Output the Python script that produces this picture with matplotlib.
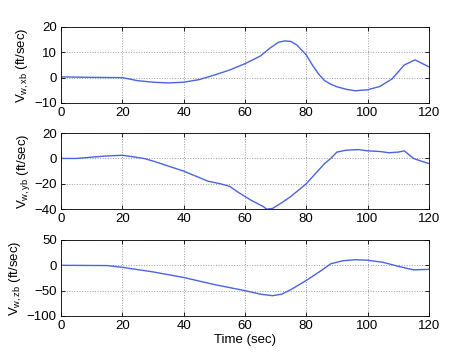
import matplotlib
matplotlib.use("Agg")
import matplotlib.pyplot as plt

plt.rcParams['font.family'] = ['Liberation Sans', 'DejaVu Sans']
plt.rcParams['mathtext.fontset'] = 'custom'
plt.rcParams['mathtext.rm'] = 'Liberation Sans'
plt.rcParams['mathtext.it'] = 'Liberation Sans:italic'

# wind velocity components in body axes
t_x = [0, 10, 20, 25, 30, 35, 40, 45, 50, 55, 60, 65, 68, 71, 73, 75, 77, 80,
       82, 84, 86, 88, 90, 93, 96, 100, 104, 108, 112, 115.5, 118, 120]
v_xb = [0.3, 0.1, 0, -1.2, -1.8, -2.1, -1.8, -0.8, 1, 3, 5.5, 8.5, 11.5, 14,
        14.5, 14.3, 12.8, 9, 5, 1.5, -1.2, -2.6, -3.6, -4.6, -5.2, -4.8, -3.5,
        -0.5, 5, 7, 5.5, 4.3]

t_y = [0, 5, 10, 15, 20, 23, 27, 30, 35, 40, 45, 48, 52, 55, 58, 62, 66, 67,
       69, 72, 75, 78, 80, 83, 86, 88, 90, 93, 97, 100, 104, 107, 110, 112,
       115, 118, 120]
v_yb = [0, 0, 1, 2, 2.5, 1.5, 0, -2, -6, -10, -15, -18, -20, -22, -27, -33,
        -38, -40, -39.5, -35, -30, -24, -20, -12, -4, 0, 5, 6.5, 7, 6, 5.5,
        4.5, 5, 6, 0, -2.5, -4]

t_z = [0, 15, 20, 30, 40, 50, 60, 65, 69, 72, 75, 80, 85, 88, 92, 96, 100,
       105, 110, 115, 120]
v_zb = [0, -0.5, -4, -13, -24, -38, -50, -57, -60, -57, -48, -30, -10, 3, 9,
        11, 10, 6, -2, -9, -8]

panels = [
    (t_x, v_xb, (-10, 20), [-10, 0, 10, 20], r'V$_{\mathrm{w,xb}}$ (ft/sec)'),
    (t_y, v_yb, (-40, 20), [-40, -20, 0, 20], r'V$_{\mathrm{w,yb}}$ (ft/sec)'),
    (t_z, v_zb, (-100, 50), [-100, -50, 0, 50], r'V$_{\mathrm{w,zb}}$ (ft/sec)'),
]
xticks = [0, 20, 40, 60, 80, 100, 120]

fig = plt.figure(figsize=(4.74, 3.55), dpi=100)
bottoms = [0.710, 0.411, 0.110]
for (t, v, ylim, yticks, ylab), b in zip(panels, bottoms):
    ax = fig.add_axes([0.1287, b, 0.776, 0.214])
    ax.plot(t, v, color='#4a63e0', linewidth=1.0)
    ax.set_xlim(0, 120)
    ax.set_ylim(*ylim)
    ax.set_xticks(xticks)
    ax.set_yticks(yticks)
    ax.grid(True, linestyle=':', color='#999999', linewidth=0.7)
    ax.tick_params(direction='in', top=True, right=True, labelsize=9.5,
                   length=3, width=0.6, pad=3)
    for s in ax.spines.values():
        s.set_linewidth(0.6)
    ax.set_ylabel(ylab, fontsize=9.5, labelpad=2)
    if b == bottoms[-1]:
        ax.set_xlabel('Time (sec)', fontsize=9.5, labelpad=1)

fig.savefig('out.png', dpi=100)
